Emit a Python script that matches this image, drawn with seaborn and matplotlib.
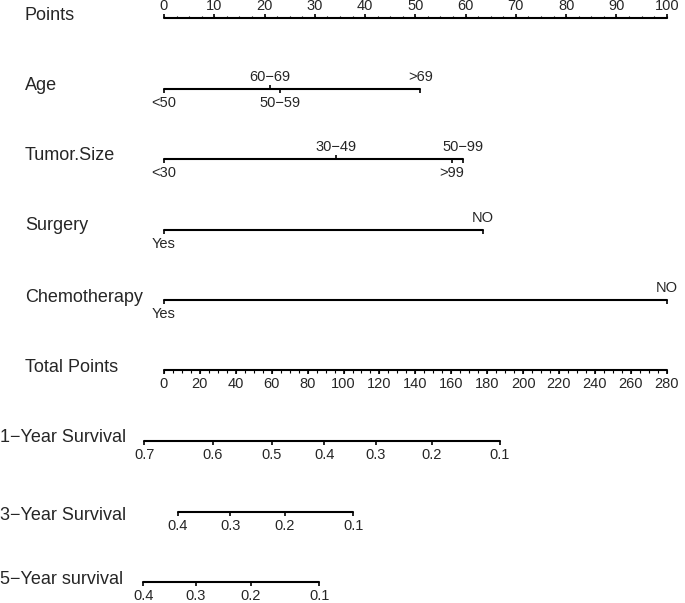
import matplotlib
matplotlib.use("Agg")
import matplotlib.pyplot as plt
import seaborn as sns
import numpy as np

sns.set_style("white")
plt.rcParams['font.family'] = ['Liberation Sans', 'DejaVu Sans']

# nomogram scales (points axis 0-100)
points_ticks = list(range(0, 101, 10))

age_labels = ['<50', '50\u221259', '60\u221269', '>69']
age_points = [0, 23, 21, 51]
age_up = [False, False, True, True]
age_tick_up = [False, False, True, False]

size_labels = ['<30', '30\u221249', '50\u221299', '>99']
size_points = [0, 34.2, 59.4, 57.2]
size_up = [False, True, True, False]
size_tick_up = [False, True, False, False]

surgery_labels = ['Yes', 'NO']
surgery_points = [0, 63.5]

chemo_labels = ['Yes', 'NO']
chemo_points = [0, 100]

total_ticks = list(range(0, 281, 20))
total_max = 280

# survival probabilities and the total points where they sit
surv1_labels = ['0.7', '0.6', '0.5', '0.4', '0.3', '0.2', '0.1']
surv1_total = [-11, 27.1, 60, 89.3, 118.1, 149.1, 187.1]
surv3_labels = ['0.4', '0.3', '0.2', '0.1']
surv3_total = [7.6, 36.8, 67.4, 105.4]
surv5_labels = ['0.4', '0.3', '0.2', '0.1']
surv5_total = [-11.5, 17.6, 48.3, 86.5]

row_names = ['Points', 'Age', 'Tumor.Size', 'Surgery', 'Chemotherapy',
             'Total Points', '1\u2212Year Survival', '3\u2212Year Survival',
             '5\u2212Year survival']
row_y = [18, 89, 159, 230, 300, 370, 441, 512, 582]
name_y = [16, 86, 156, 226, 297, 367, 438, 515, 579]

fig = plt.figure(figsize=(6.85, 6.03), dpi=100)
ax = fig.add_axes([0, 0, 1, 1])
ax.set_xlim(-164 / 5.027, (685 - 164) / 5.027)
ax.set_ylim(603, 0)
ax.axis('off')

lab_fs = 13
tick_fs = 10.5
lw = 1.5

def base_line(xs, y):
    sns.lineplot(x=[min(xs), max(xs)], y=[y, y], color='black', lw=lw, ax=ax,
                 estimator=None, sort=True)

def cat_row(y, pts, labels, up, tick_up=None):
    if tick_up is None:
        tick_up = [False] * len(pts)
    base_line(pts, y)
    for p, lab, u, tu in zip(pts, labels, up, tick_up):
        if tu:
            ax.vlines(p, y - 4, y, color='black', lw=1.2)
        else:
            ax.vlines(p, y, y + 4, color='black', lw=1.2)
        if u:
            ax.text(p, y - 5, lab, ha='center', va='bottom', fontsize=tick_fs)
        else:
            ax.text(p, y + 7, lab, ha='center', va='top', fontsize=tick_fs)

# row names
for i, (name, y) in enumerate(zip(row_names, name_y)):
    xf = 25 / 685 if i < 6 else 0.0
    ax.text(xf, y, name, ha='left', va='center', fontsize=lab_fs,
            transform=ax.get_yaxis_transform())

# Points axis
y = row_y[0]
base_line([0, 100], y)
ax.vlines(np.arange(0, 100.1, 2.5), y - 2.5, y, color='black', lw=0.8)
ax.vlines(points_ticks, y - 4, y, color='black', lw=1.2)
for t in points_ticks:
    ax.text(t, y - 5, str(t), ha='center', va='bottom', fontsize=tick_fs)

cat_row(row_y[1], age_points, age_labels, age_up, tick_up=age_tick_up)
cat_row(row_y[2], size_points, size_labels, size_up, tick_up=size_tick_up)
cat_row(row_y[3], surgery_points, surgery_labels, [False, True])
cat_row(row_y[4], chemo_points, chemo_labels, [False, True])

# Total points axis
scale = 100 / total_max
y = row_y[5]
base_line([0, 100], y)
ax.vlines(np.arange(0, total_max + 0.1, 5) * scale, y, y + 2.5, color='black', lw=0.8)
ax.vlines(np.array(total_ticks) * scale, y, y + 4, color='black', lw=1.2)
for t in total_ticks:
    ax.text(t * scale, y + 7, str(t), ha='center', va='top', fontsize=tick_fs)

# survival axes
for y, labs, tot in [(row_y[6], surv1_labels, surv1_total),
                     (row_y[7], surv3_labels, surv3_total),
                     (row_y[8], surv5_labels, surv5_total)]:
    pts = [t * scale for t in tot]
    cat_row(y, pts, labs, [False] * len(pts))

fig.savefig('out.png', dpi=100)
